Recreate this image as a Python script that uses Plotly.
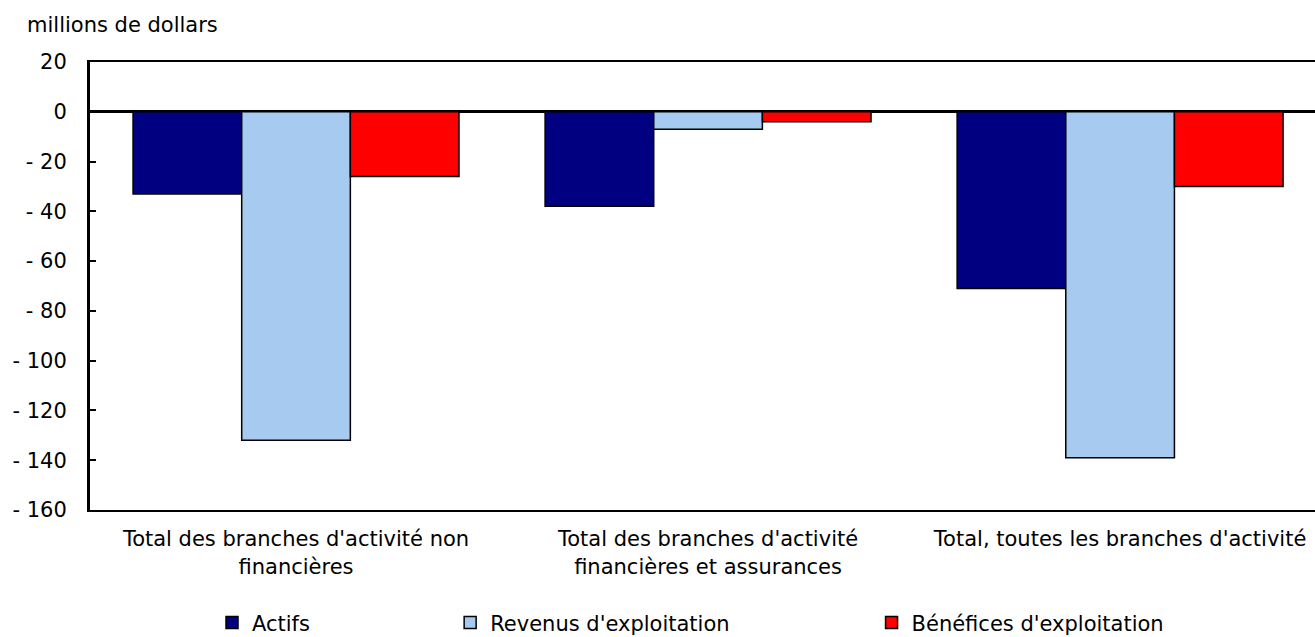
import plotly.graph_objects as go

categories = ["Total des branches d'activité non<br>financières",
              "Total des branches d'activité<br>financières et assurances",
              "Total, toutes les branches d'activité"]
actifs = [-33, -38, -71]
revenus = [-132, -7, -139]
benefices = [-26, -4, -30]
series_names = ["Actifs", "Revenus d'exploitation", "Bénéfices d'exploitation"]
colors = ["#000080", "#A6CAF0", "#FF0000"]
tick_vals = [20, 0, -20, -40, -60, -80, -100, -120, -140, -160]
tick_text = ["20", "0", "- 20", "- 40", "- 60", "- 80", "- 100", "- 120", "- 140", "- 160"]

FONT = "DejaVu Sans, Verdana, sans-serif"
FS = 21
x_idx = list(range(len(categories)))

fig = go.Figure()
legend_ids = ["legend", "legend2", "legend3"]
for vals, name, col, lg in zip([actifs, revenus, benefices], series_names, colors, legend_ids):
    fig.add_trace(go.Bar(x=x_idx, y=vals, name=name, marker_color=col,
                         marker_line_color="#000000", marker_line_width=1.5,
                         legend=lg))

legend_common = dict(orientation="h", font=dict(family=FONT, size=FS, color="#000"),
                     xanchor="left", yanchor="middle", y=-0.252, bgcolor="rgba(0,0,0,0)",
                     itemwidth=30, traceorder="normal")
fig.update_layout(
    width=1315, height=637,
    margin=dict(l=90, r=0, t=62, b=127, autoexpand=False),
    paper_bgcolor="white", plot_bgcolor="white",
    barmode="group", bargap=0.209, bargroupgap=0,
    font=dict(family=FONT, size=FS, color="#000"),
    showlegend=True,
    legend=dict(**legend_common, x=0.0996),
    legend2=dict(**legend_common, x=0.294),
    legend3=dict(**legend_common, x=0.638),
    xaxis=dict(tickmode="array", tickvals=x_idx, ticktext=categories,
               range=[-0.5, 2.473], showline=True, linecolor="#000", linewidth=2,
               mirror=True, ticks="", showgrid=False, zeroline=False, automargin=False,
               ticklabelstandoff=9,
               tickfont=dict(family=FONT, size=FS, color="#000")),
    yaxis=dict(range=[-160, 20], tickmode="array", tickvals=tick_vals, ticktext=tick_text,
               showline=True, linecolor="#000", linewidth=3, ticks="inside", ticklen=6,
               tickwidth=2, tickcolor="#000", showgrid=False, zeroline=True,
               zerolinecolor="#000", zerolinewidth=3, ticklabelstandoff=16, automargin=False,
               tickfont=dict(family=FONT, size=FS, color="#000")),
    annotations=[dict(text="millions de dollars", xref="paper", yref="paper",
                      x=-0.0531, y=1.0, xanchor="left", yanchor="middle", yshift=37,
                      showarrow=False, font=dict(family=FONT, size=FS, color="#000"))],
)

fig.write_html("out.html", config={"displayModeBar": False},
               post_script="document.body.style.margin='0';document.body.style.overflow='hidden';")
